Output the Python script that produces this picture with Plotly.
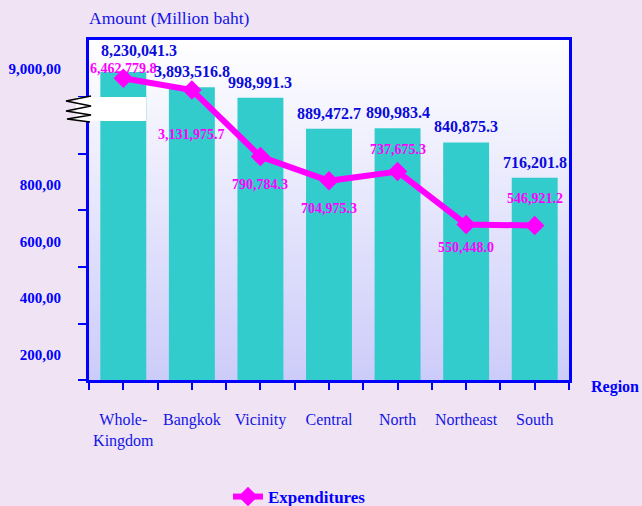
import plotly.graph_objects as go

# ---------------- data ----------------
categories = ["Whole-Kingdom", "Bangkok", "Vicinity", "Central", "North", "Northeast", "South"]
income_values = [8230041.3, 3893516.8, 998991.3, 889472.7, 890983.4, 840875.3, 716201.8]
expenditure_values = [6462779.8, 3131975.7, 790784.3, 704975.3, 737675.3, 550448.0, 546921.2]
ytick_values = [90000, 290000, 490000, 690000, 9000000]
ytick_labels = ["200,00", "400,00", "600,00", "800,00", "9,000,00"]
ymark_values = [0, 200000, 400000, 600000, 800000, 1000000]

# label placement (style): vertical offset of expenditure labels from their point, px (+ = up)
exp_label_offset = [10, -45, -28, -28, 22, -23, 27]

# ---------------- broken axis scale ----------------
BREAK = 1_000_000
COMPRESS = 0.0125
YMAX = 1_203_500


def scale(v):
    return v if v <= BREAK else BREAK + (v - BREAK) * COMPRESS


# plot-area pixel geometry
W, H = 642, 506
PL, PR, PT, PB = 89, 569, 40, 380


def px_x(x):
    return (x - PL) / (PR - PL)


def px_y(y):
    return (PB - y) / (PB - PT)


BLUE = "#0000FF"
TXT_BLUE = "#1414E6"
LBL_BLUE = "#0A0ADC"
MAGENTA = "#FF00FF"
TEAL = "#33CCCC"
FONT = "Liberation Serif"

xs = list(range(len(categories)))
cat_px = (PR - PL) / len(categories)

fig = go.Figure()
fig.add_trace(go.Bar(
    x=xs, y=[scale(v) for v in income_values], width=0.67,
    marker=dict(color=TEAL, line=dict(width=0)), name="Income",
    showlegend=False, hoverinfo="skip",
))
fig.add_trace(go.Scatter(
    x=xs, y=[scale(v) for v in expenditure_values], name="Expenditures",
    mode="lines+markers",
    line=dict(color=MAGENTA, width=6),
    marker=dict(symbol="diamond", size=15, color=MAGENTA),
    cliponaxis=False,
))

annotations = []
for i, v in enumerate(expenditure_values):
    annotations.append(dict(
        x=i, y=scale(v), xref="x", yref="y", text=f"{v:,.1f}", showarrow=False,
        yanchor="middle", yshift=exp_label_offset[i],
        font=dict(family=FONT, size=14, color=MAGENTA, weight="bold"),
    ))
for i, v in enumerate(income_values):
    text = f"{v:,.1f}"
    shift = 5
    if exp_label_offset[i] > 0 and abs(scale(expenditure_values[i]) - scale(v)) < 40000:
        shift += 6
    # keep the label clear of the left axis line
    est_w = len(text) * 7.3
    left = PL + (i + 0.5) * cat_px - est_w / 2
    xshift = max(0, PL + 10 - left)
    annotations.append(dict(
        x=i, y=scale(v), xref="x", yref="y", text=text, showarrow=False,
        yanchor="bottom", yshift=shift, xshift=xshift,
        font=dict(family=FONT, size=16, color=LBL_BLUE, weight="bold"),
    ))

annotations.append(dict(
    x=px_x(87), y=px_y(18), xref="paper", yref="paper", text="Amount (Million baht)",
    showarrow=False, xanchor="left", yanchor="middle",
    font=dict(family=FONT, size=17.5, color=TXT_BLUE),
))
annotations.append(dict(
    x=px_x(589), y=px_y(387), xref="paper", yref="paper", text="<b>Region</b>",
    showarrow=False, xanchor="left", yanchor="middle",
    font=dict(family=FONT, size=16, color=BLUE),
))

# background gradient bands for the plot area
shapes = []
nb = 68
top_c = (255, 255, 255)
bot_c = (204, 204, 250)
for k in range(nb):
    t = (k + 0.5) / nb
    c = tuple(round(top_c[j] + (bot_c[j] - top_c[j]) * t) for j in range(3))
    shapes.append(dict(
        type="rect", xref="paper", yref="paper", layer="below",
        x0=0, x1=1, y0=1 - (k + 1) / nb, y1=1 - k / nb + 0.001,
        fillcolor=f"rgb{c}", line=dict(width=0),
    ))

# axis break marker
shapes.append(dict(
    type="rect", xref="paper", yref="paper", layer="above",
    x0=px_x(76), x1=px_x(146), y0=px_y(121), y1=px_y(97),
    fillcolor="white", line=dict(width=0),
))
zig = [(91, 96), (66, 101), (91, 106), (66, 111), (91, 115), (67, 119), (90, 122)]
path = "M " + " L ".join(f"{px_x(a):.4f},{px_y(b):.4f}" for a, b in zig)
shapes.append(dict(
    type="path", xref="paper", yref="paper", layer="above", path=path,
    line=dict(color="black", width=1.5),
))

fig.update_layout(
    width=W, height=H,
    margin=dict(l=PL, r=W - PR, t=PT, b=H - PB, autoexpand=False),
    paper_bgcolor="#F0E4F4", plot_bgcolor="white",
    font=dict(family=FONT, color=TXT_BLUE),
    showlegend=True,
    legend=dict(
        orientation="h", x=px_x(228), y=px_y(479), xanchor="left", yanchor="top",
        bgcolor="rgba(0,0,0,0)",
        font=dict(family=FONT, size=17, color=BLUE, weight="bold"),
    ),
    annotations=annotations, shapes=shapes,
    bargap=0.33,
)

fig.update_xaxes(
    range=[-0.5, len(categories) - 0.5],
    tickmode="array", tickvals=xs,
    ticktext=[c.replace("-", "-<br>") for c in categories],
    ticks="outside", ticklen=7, tickwidth=2, tickcolor=BLUE,
    minor=dict(tickmode="array", tickvals=[i - 0.5 for i in range(len(categories) + 1)],
               ticks="outside", ticklen=7, tickwidth=2, tickcolor=BLUE),
    tickfont=dict(family=FONT, size=16, color=TXT_BLUE),
    ticklabelstandoff=16,
    showline=True, linecolor=BLUE, linewidth=3, mirror=True,
    showgrid=False, zeroline=False, fixedrange=True,
)
fig.update_yaxes(
    range=[0, YMAX],
    tickmode="array", tickvals=[scale(v) for v in ytick_values], ticktext=ytick_labels,
    ticks="", ticklabelstandoff=22,
    minor=dict(tickmode="array", tickvals=ymark_values,
               ticks="outside", ticklen=8, tickwidth=2, tickcolor=BLUE),
    tickfont=dict(family=FONT, size=15, color=BLUE, weight="bold"),
    showline=True, linecolor=BLUE, linewidth=3, mirror=True,
    showgrid=False, zeroline=False, fixedrange=True,
)

fig.write_html(
    "out.html",
    config={"displayModeBar": False},
    post_script="document.body.style.margin='0';document.body.style.background='#F0E4F4';",
)
